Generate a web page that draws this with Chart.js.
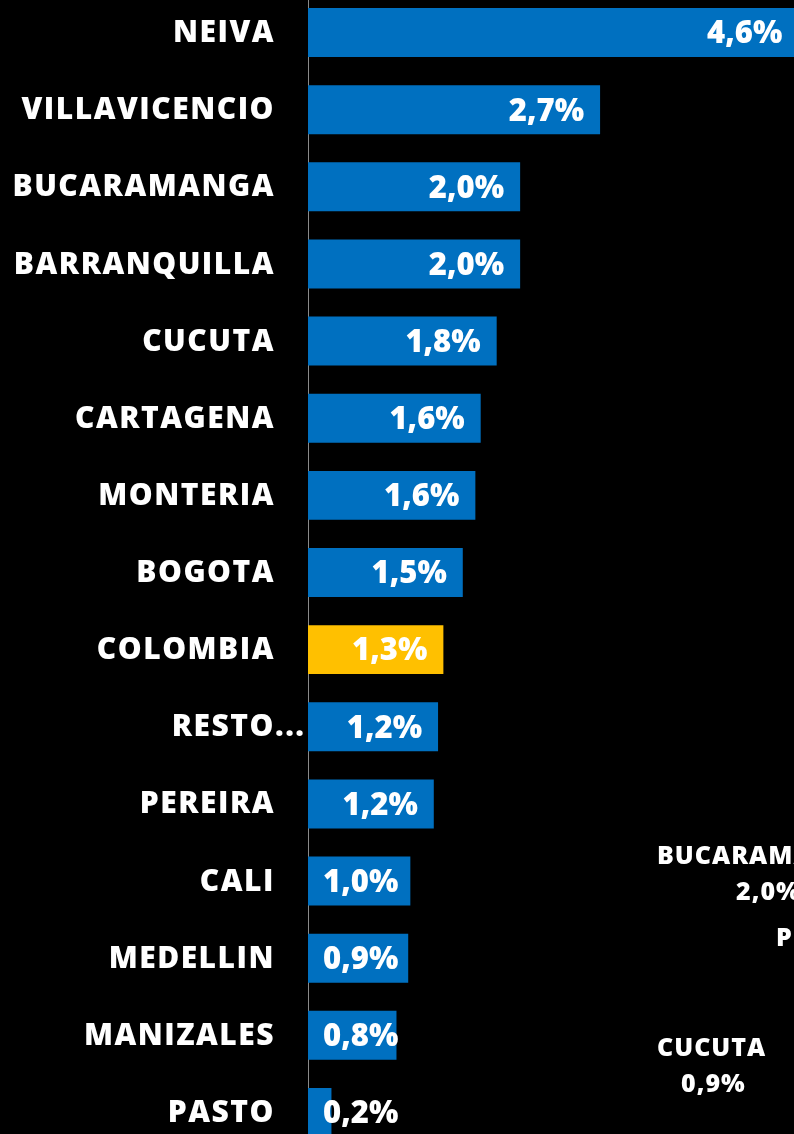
<!DOCTYPE html>
<html lang="es">
<head>
<meta charset="utf-8">
<title>Variación por ciudad</title>
<script src="https://cdn.jsdelivr.net/npm/chart.js@4.4.1/dist/chart.umd.min.js"></script>
<style>
    html, body {
        margin: 0;
        padding: 0;
        width: 794px;
        height: 1134px;
        background: #000000;
        overflow: hidden;
    }
    #wrap {
        position: absolute;
        left: 0;
        top: -6px;
        width: 841px;
        height: 1157px;
    }
</style>
</head>
<body>
<div id="wrap"><canvas id="cityChart" width="841" height="1157"></canvas></div>
<script>
// Datos del gráfico
const ciudades = ['NEIVA', 'VILLAVICENCIO', 'BUCARAMANGA', 'BARRANQUILLA', 'CUCUTA', 'CARTAGENA',
    'MONTERIA', 'BOGOTA', 'COLOMBIA', 'RESTO...', 'PEREIRA', 'CALI', 'MEDELLIN', 'MANIZALES', 'PASTO'];
const variacion = [4.6, 2.74, 1.99, 1.99, 1.77, 1.62, 1.57, 1.452, 1.27, 1.22, 1.18, 0.96, 0.94, 0.83, 0.22];
const destacada = 'COLOMBIA';

// Textos sueltos de la otra gráfica que asoman abajo a la derecha
const textosSueltos = ['BUCARAMANGA', '2,0%', 'PEREIRA', 'CUCUTA', '0,9%'];

const AZUL = '#0070C0';
const AMARILLO = '#FFC000';
const FUENTE = '"Open Sans", "DejaVu Sans", sans-serif';

function formatoPct(v) {
    return v.toFixed(1).replace('.', ',') + '%';
}

// Nombres de ciudad a la izquierda del eje
const etiquetasCiudad = {
    id: 'etiquetasCiudad',
    afterDraw(chart) {
        const ctx = chart.ctx;
        const y = chart.scales.y;
        ctx.save();
        ctx.fillStyle = '#ffffff';
        ctx.font = '800 30px ' + FUENTE;
        ctx.letterSpacing = '1.5px';
        ctx.textBaseline = 'middle';
        ciudades.forEach((c, i) => {
            const py = y.getPixelForTick(i) + 1;
            if (c.endsWith('...')) {
                // texto recortado: la base queda alineada y los puntos sobresalen
                const base = c.slice(0, -3);
                ctx.textAlign = 'left';
                ctx.fillText(c, 275 - ctx.measureText(base).width, py);
            } else {
                ctx.textAlign = 'right';
                ctx.fillText(c, 275, py);
            }
        });
        ctx.restore();
    }
};

// Valores dentro del extremo de cada barra
const etiquetasValor = {
    id: 'etiquetasValor',
    afterDatasetsDraw(chart) {
        const ctx = chart.ctx;
        const meta = chart.getDatasetMeta(0);
        const izq = chart.chartArea.left + 15;
        ctx.save();
        ctx.fillStyle = '#ffffff';
        ctx.font = '800 31px ' + FUENTE;
        ctx.textBaseline = 'middle';
        ctx.textAlign = 'left';
        meta.data.forEach((bar, i) => {
            const txt = formatoPct(variacion[i]);
            const w = ctx.measureText(txt).width;
            const x = Math.max(bar.x - 16 - w, izq);
            ctx.fillText(txt, x, bar.y + 2);
        });
        ctx.restore();
    }
};

// Restos de otra gráfica (se recortan en el borde de la página)
const restos = {
    id: 'restos',
    afterDraw(chart) {
        const ctx = chart.ctx;
        const pos = [[657, 863], [736, 899], [776, 945], [657, 1055], [681, 1091]];
        ctx.save();
        ctx.fillStyle = '#ffffff';
        ctx.font = '800 25px ' + FUENTE;
        ctx.letterSpacing = '1px';
        ctx.textBaseline = 'middle';
        ctx.textAlign = 'left';
        textosSueltos.forEach((t, i) => ctx.fillText(t, pos[i][0], pos[i][1]));
        ctx.restore();
    }
};

function initChart() {
    const ctx = document.getElementById('cityChart').getContext('2d');
    new Chart(ctx, {
        type: 'bar',
        data: {
            labels: ciudades,
            datasets: [{
                data: variacion,
                backgroundColor: ciudades.map(c => c === destacada ? AMARILLO : AZUL),
                borderWidth: 0,
                categoryPercentage: 1,
                barPercentage: 0.635
            }]
        },
        options: {
            indexAxis: 'y',
            responsive: false,
            animation: false,
            layout: { padding: 0 },
            scales: {
                x: {
                    display: false,
                    min: 0,
                    max: 5
                },
                y: {
                    ticks: { display: false },
                    grid: { display: false, drawTicks: false },
                    border: { display: true, color: '#8a8a8a', width: 1 },
                    afterFit(scale) { scale.width = 308; }
                }
            },
            plugins: {
                legend: { display: false },
                tooltip: { enabled: false }
            }
        },
        plugins: [etiquetasCiudad, etiquetasValor, restos]
    });
}

document.addEventListener('DOMContentLoaded', initChart);
</script>
</body>
</html>
